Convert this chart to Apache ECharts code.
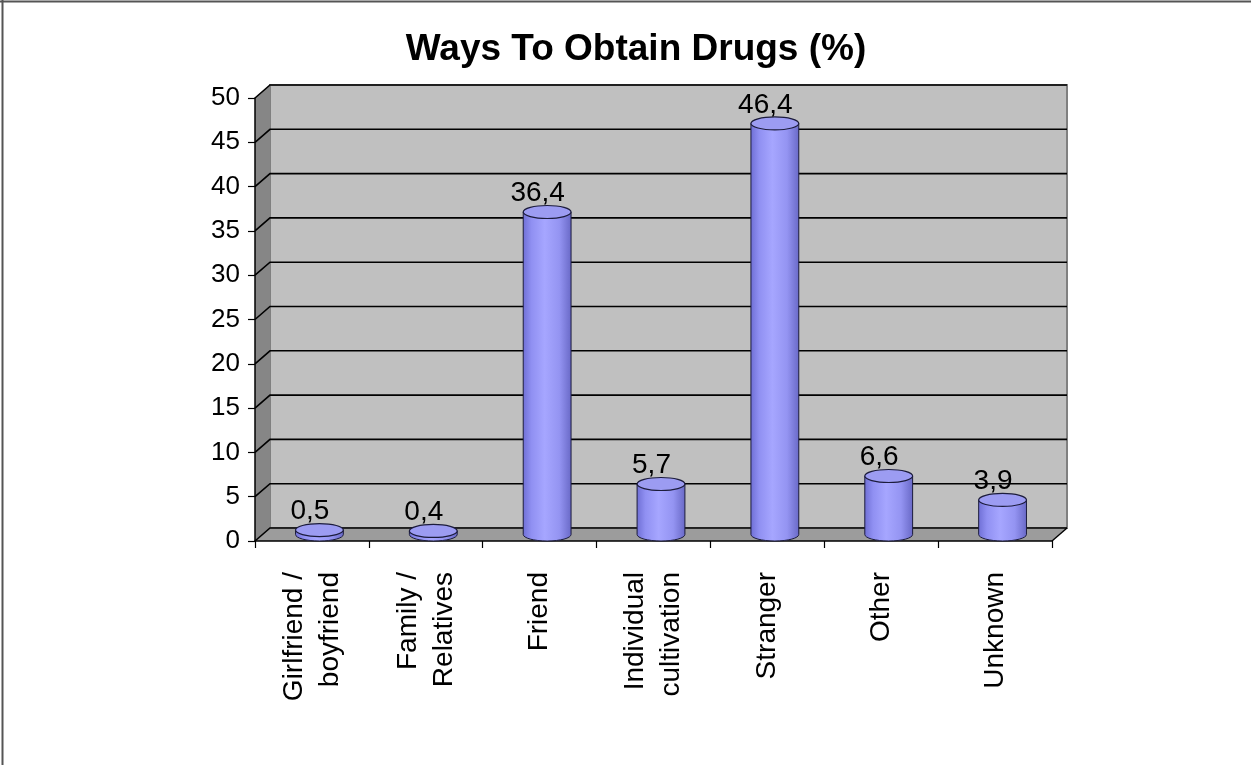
<!DOCTYPE html>
<html>
<head>
<meta charset="utf-8">
<title>Ways To Obtain Drugs (%)</title>
<script src="https://cdn.jsdelivr.net/npm/echarts@6/dist/echarts.min.js"></script>
<style>
  html, body { margin: 0; padding: 0; background: #ffffff; }
  #chart { width: 1251px; height: 765px; }
</style>
</head>
<body>
<div id="chart"></div>
<script>
// Categories and percentage shares
const categories = [
  'Girlfriend /\nboyfriend',
  'Family /\nRelatives',
  'Friend',
  'Individual\ncultivation',
  'Stranger',
  'Other',
  'Unknown'
];
const shares = [0.5, 0.4, 36.4, 5.7, 46.4, 6.6, 3.9];

// Value axis range and tick step
const yMin = 0;
const yMax = 50;
const yStep = 5;
const yTicks = [0, 5, 10, 15, 20, 25, 30, 35, 40, 45, 50];

const FONT = '"Liberation Sans", Arial, sans-serif';
// Depth of the pseudo-3D box (pixels toward the back wall)
const DX = 15;
const DY = -13;

const chart = echarts.init(document.getElementById('chart'), null, { renderer: 'canvas' });

function shift(p) { return [p[0] + DX, p[1] + DY]; }

// Walls, floor and gridlines of the box, drawn through the axes' scales
function renderBox(params, api) {
  const n = categories.length;
  const p = (x, y) => api.coord([x, y]);
  const children = [];
  // back wall
  const bTL = shift(p(0, yMax));
  const bBR = shift(p(n, yMin));
  children.push({
    type: 'rect',
    shape: { x: bTL[0], y: bTL[1], width: bBR[0] - bTL[0], height: bBR[1] - bTL[1] },
    style: { fill: '#c0c0c0', stroke: '#808080', lineWidth: 2 }
  });
  // left side wall
  children.push({
    type: 'polygon',
    shape: { points: [p(0, yMin), p(0, yMax), shift(p(0, yMax)), shift(p(0, yMin))] },
    style: { fill: '#868686', stroke: null }
  });
  // floor
  children.push({
    type: 'polygon',
    shape: { points: [p(0, yMin), p(n, yMin), shift(p(n, yMin)), shift(p(0, yMin))] },
    style: { fill: '#9c9c9c', stroke: null }
  });
  // gridlines across side wall and back wall
  yTicks.forEach(v => {
    children.push({
      type: 'polyline',
      shape: { points: [p(0, v), shift(p(0, v)), shift(p(n, v))] },
      style: { fill: null, stroke: '#000000', lineWidth: 1.6 }
    });
  });
  // right edge of floor
  children.push({
    type: 'line',
    shape: { x1: p(n, yMin)[0], y1: p(n, yMin)[1], x2: shift(p(n, yMin))[0], y2: shift(p(n, yMin))[1] },
    style: { stroke: '#000000', lineWidth: 1.4 }
  });
  return { type: 'group', children: children };
}

function ellipsePath(cx, cy, rx, ry) {
  const k = 0.5523;
  return 'M' + (cx - rx) + ' ' + cy +
    ' C' + (cx - rx) + ' ' + (cy - k * ry) + ' ' + (cx - k * rx) + ' ' + (cy - ry) + ' ' + cx + ' ' + (cy - ry) +
    ' C' + (cx + k * rx) + ' ' + (cy - ry) + ' ' + (cx + rx) + ' ' + (cy - k * ry) + ' ' + (cx + rx) + ' ' + cy +
    ' C' + (cx + rx) + ' ' + (cy + k * ry) + ' ' + (cx + k * rx) + ' ' + (cy + ry) + ' ' + cx + ' ' + (cy + ry) +
    ' C' + (cx - k * rx) + ' ' + (cy + ry) + ' ' + (cx - rx) + ' ' + (cy + k * ry) + ' ' + (cx - rx) + ' ' + cy + ' Z';
}

function bodyPath(cx, yt, yb, rx, ry) {
  const k = 0.5523;
  return 'M' + (cx - rx) + ' ' + yt +
    ' L' + (cx - rx) + ' ' + yb +
    ' C' + (cx - rx) + ' ' + (yb + k * ry) + ' ' + (cx - k * rx) + ' ' + (yb + ry) + ' ' + cx + ' ' + (yb + ry) +
    ' C' + (cx + k * rx) + ' ' + (yb + ry) + ' ' + (cx + rx) + ' ' + (yb + k * ry) + ' ' + (cx + rx) + ' ' + yb +
    ' L' + (cx + rx) + ' ' + yt + ' Z';
}

// One cylinder per category, plus its value label
function renderCylinder(params, api) {
  const i = api.value(0);
  const v = api.value(1);
  const base = api.coord([i, 0]);
  const top = api.coord([i, v]);
  const band = api.size([1, 0])[0];
  const rx = band * 0.21;
  const ry = 6.5;
  const cx = base[0] + DX / 2;
  const yb = base[1] + DY / 2;
  const yt = top[1] + DY / 2;
  const bodyFill = new echarts.graphic.LinearGradient(0, 0, 1, 0, [
    { offset: 0, color: '#6e6ed4' },
    { offset: 0.18, color: '#9090f2' },
    { offset: 0.45, color: '#a6a6ff' },
    { offset: 0.75, color: '#9494f2' },
    { offset: 1, color: '#6868c6' }
  ]);
  return {
    type: 'group',
    children: [
      {
        type: 'path',
        shape: { pathData: bodyPath(cx, yt, yb, rx, ry) },
        style: { fill: bodyFill, stroke: '#1c1c3c', lineWidth: 1 }
      },
      {
        type: 'path',
        shape: { pathData: ellipsePath(cx, yt, rx, ry) },
        style: { fill: '#9c9cf2', stroke: '#1c1c3c', lineWidth: 1.2 }
      },
      {
        type: 'text',
        x: base[0] - 2,
        y: top[1] - 11,
        style: {
          text: String(v).replace('.', ','),
          fill: '#000000',
          font: '28px ' + FONT,
          textAlign: 'center',
          textVerticalAlign: 'bottom'
        }
      }
    ]
  };
}

const option = {
  backgroundColor: '#ffffff',
  animation: false,
  graphic: [
    { type: 'line', shape: { x1: 0, y1: 1.5, x2: 1251, y2: 1.5 }, style: { stroke: '#555555', lineWidth: 2 } },
    { type: 'line', shape: { x1: 2.5, y1: 0, x2: 2.5, y2: 765 }, style: { stroke: '#555555', lineWidth: 2 } },
    {
      type: 'text',
      x: 636,
      y: 50,
      style: {
        text: 'Ways To Obtain Drugs (%)',
        fill: '#000000',
        font: 'bold 37px ' + FONT,
        textAlign: 'center',
        textVerticalAlign: 'middle'
      }
    }
  ],
  grid: { left: 255, right: 199, top: 98, bottom: 224, containLabel: false },
  xAxis: [
    {
      type: 'category',
      data: categories,
      boundaryGap: true,
      axisLine: { show: true, lineStyle: { color: '#000000', width: 1.5 } },
      axisTick: { show: true, inside: false, length: 7, lineStyle: { color: '#000000', width: 1.2 } },
      axisLabel: {
        interval: 0,
        rotate: 90,
        margin: 31,
        fontSize: 28,
        lineHeight: 36,
        color: '#000000',
        fontFamily: FONT
      },
      splitLine: { show: false }
    },
    { type: 'value', min: 0, max: categories.length, show: false }
  ],
  yAxis: {
    type: 'value',
    min: yMin,
    max: yMax,
    interval: yStep,
    axisLine: { show: true, lineStyle: { color: '#000000', width: 1.5 } },
    axisTick: { show: true, inside: false, length: 7, lineStyle: { color: '#000000', width: 1.2 } },
    axisLabel: { margin: 15, fontSize: 26, color: '#000000', fontFamily: FONT },
    splitLine: { show: false }
  },
  series: [
    {
      type: 'custom',
      name: 'box',
      xAxisIndex: 1,
      yAxisIndex: 0,
      z: -1,
      silent: true,
      data: [[0, 0]],
      renderItem: renderBox
    },
    {
      type: 'custom',
      name: 'Ways To Obtain Drugs (%)',
      xAxisIndex: 0,
      yAxisIndex: 0,
      data: shares.map((v, i) => [i, v]),
      encode: { x: 0, y: 1 },
      renderItem: renderCylinder
    }
  ]
};

chart.setOption(option);
</script>
</body>
</html>
